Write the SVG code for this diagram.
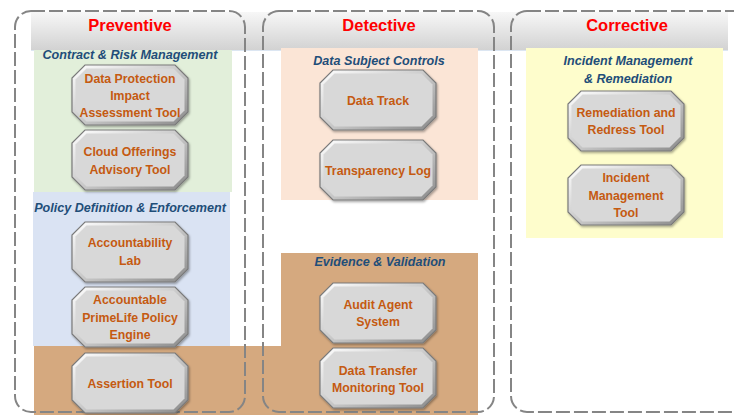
<svg xmlns="http://www.w3.org/2000/svg" xmlns:xlink="http://www.w3.org/1999/xlink" width="734" height="415" viewBox="0 0 734 415">
<style>
.col{fill:none;stroke:#858585;stroke-width:2;stroke-dasharray:14 4}
.hdr{font-family:"Liberation Sans",Arial,sans-serif;font-weight:bold;font-size:16.5px;fill:#ff0000;text-anchor:middle}
.sec{font-family:"Liberation Sans",Arial,sans-serif;font-weight:bold;font-style:italic;font-size:12.6px;fill:#1f4e79;text-anchor:middle}
.nt{font-family:"Liberation Sans",Arial,sans-serif;font-weight:bold;font-size:12.3px;fill:#c55a11;text-anchor:middle}
</style>
<defs>
<linearGradient id="band" x1="0" y1="0" x2="0" y2="1">
<stop offset="0" stop-color="#f7f7f7"/>
<stop offset="1" stop-color="#d2d2d2"/>
</linearGradient>
<linearGradient id="bev" x1="0" y1="0" x2="1" y2="1">
<stop offset="0" stop-color="#ffffff"/>
<stop offset="0.5" stop-color="#c9c9c9"/>
<stop offset="1" stop-color="#8a8a8a"/>
</linearGradient>
<filter id="sh" x="-10%" y="-10%" width="125%" height="130%">
<feDropShadow dx="1" dy="1.5" stdDeviation="1.2" flood-color="#000" flood-opacity="0.35"/>
</filter>
<path id="oct" d="M13,0 H103 L116,13 V47 L103,60 H13 L0,47 V13 Z" fill="url(#bev)" stroke="#7a7a7a" stroke-width="1.2" filter="url(#sh)"/>
<path id="octIn" d="M14.5,3.5 H101.5 L112.5,14.5 V45.5 L101.5,56.5 H14.5 L3.5,45.5 V14.5 Z" fill="#d8d8d8"/>
</defs>

<g id="backgrounds">
<rect x="31" y="12" width="697" height="38" fill="url(#band)"/>
<line x1="31" y1="50.5" x2="728" y2="50.5" stroke="#dce6f2" stroke-width="1"/>
<rect x="34" y="50" width="198" height="142" fill="#e2efda"/>
<rect x="33" y="192" width="197" height="154" fill="#dae3f3"/>
<rect x="281" y="48" width="197" height="152" fill="#fbe5d6"/>
<rect x="526" y="48" width="197" height="190" fill="#fefdcc"/>
<path d="M34,346 H281 V253 H478 V415 H34 Z" fill="#d5a97f"/>
</g>

<g id="columns">
<rect class="col" x="15" y="11" width="230" height="401" rx="16"/>
<rect class="col" x="263" y="11" width="231" height="401" rx="16"/>
<rect class="col" x="511" y="11" width="240" height="401" rx="16"/>
<text class="hdr" x="130" y="31">Preventive</text>
<text class="hdr" x="379" y="31">Detective</text>
<text class="hdr" x="627" y="31">Corrective</text>
</g>

<g id="section-titles">
<text class="sec" x="130" y="58.5">Contract &amp; Risk Management</text>
<text class="sec" x="130" y="211.5">Policy Definition &amp; Enforcement</text>
<text class="sec" x="379" y="64.5">Data Subject Controls</text>
<text class="sec" x="380" y="265.5">Evidence &amp; Validation</text>
<text class="sec" x="628" y="64.5">Incident Management</text>
<text class="sec" x="628" y="82.5">&amp; Remediation</text>
</g>

<g id="connectors"></g>

<g id="node-dpia" transform="translate(72,65)">
<use xlink:href="#oct"/><use xlink:href="#octIn"/>
<text class="nt" x="58" y="18">Data Protection</text>
<text class="nt" x="58" y="35">Impact</text>
<text class="nt" x="58" y="52">Assessment Tool</text>
</g>
<g id="node-cloud" transform="translate(72,130)">
<use xlink:href="#oct"/><use xlink:href="#octIn"/>
<text class="nt" x="58" y="25.5">Cloud Offerings</text>
<text class="nt" x="58" y="43.5">Advisory Tool</text>
</g>
<g id="node-acclab" transform="translate(72,222)">
<use xlink:href="#oct"/><use xlink:href="#octIn"/>
<text class="nt" x="58" y="24.5">Accountability</text>
<text class="nt" x="58" y="42.5">Lab</text>
</g>
<g id="node-primelife" transform="translate(72,287)">
<use xlink:href="#oct"/><use xlink:href="#octIn"/>
<text class="nt" x="58" y="16.5">Accountable</text>
<text class="nt" x="58" y="34.5">PrimeLife Policy</text>
<text class="nt" x="58" y="51.5">Engine</text>
</g>
<g id="node-assertion" transform="translate(72,353)">
<use xlink:href="#oct"/><use xlink:href="#octIn"/>
<text class="nt" x="58" y="34.5">Assertion Tool</text>
</g>
<g id="node-datatrack" transform="translate(320,70)">
<use xlink:href="#oct"/><use xlink:href="#octIn"/>
<text class="nt" x="58" y="34.5">Data Track</text>
</g>
<g id="node-transparency" transform="translate(320,140)">
<use xlink:href="#oct"/><use xlink:href="#octIn"/>
<text class="nt" x="58" y="34.5">Transparency Log</text>
</g>
<g id="node-audit" transform="translate(320,283)">
<use xlink:href="#oct"/><use xlink:href="#octIn"/>
<text class="nt" x="58" y="25.5">Audit Agent</text>
<text class="nt" x="58" y="42.5">System</text>
</g>
<g id="node-transfer" transform="translate(320,348)">
<use xlink:href="#oct"/><use xlink:href="#octIn"/>
<text class="nt" x="58" y="26.5">Data Transfer</text>
<text class="nt" x="58" y="43.5">Monitoring Tool</text>
</g>
<g id="node-remediation" transform="translate(568,91)">
<use xlink:href="#oct"/><use xlink:href="#octIn"/>
<text class="nt" x="58" y="26">Remediation and</text>
<text class="nt" x="58" y="43">Redress Tool</text>
</g>
<g id="node-incident" transform="translate(568,165)">
<use xlink:href="#oct"/><use xlink:href="#octIn"/>
<text class="nt" x="58" y="16.5">Incident</text>
<text class="nt" x="58" y="34.5">Management</text>
<text class="nt" x="58" y="51.5">Tool</text>
</g>
</svg>
